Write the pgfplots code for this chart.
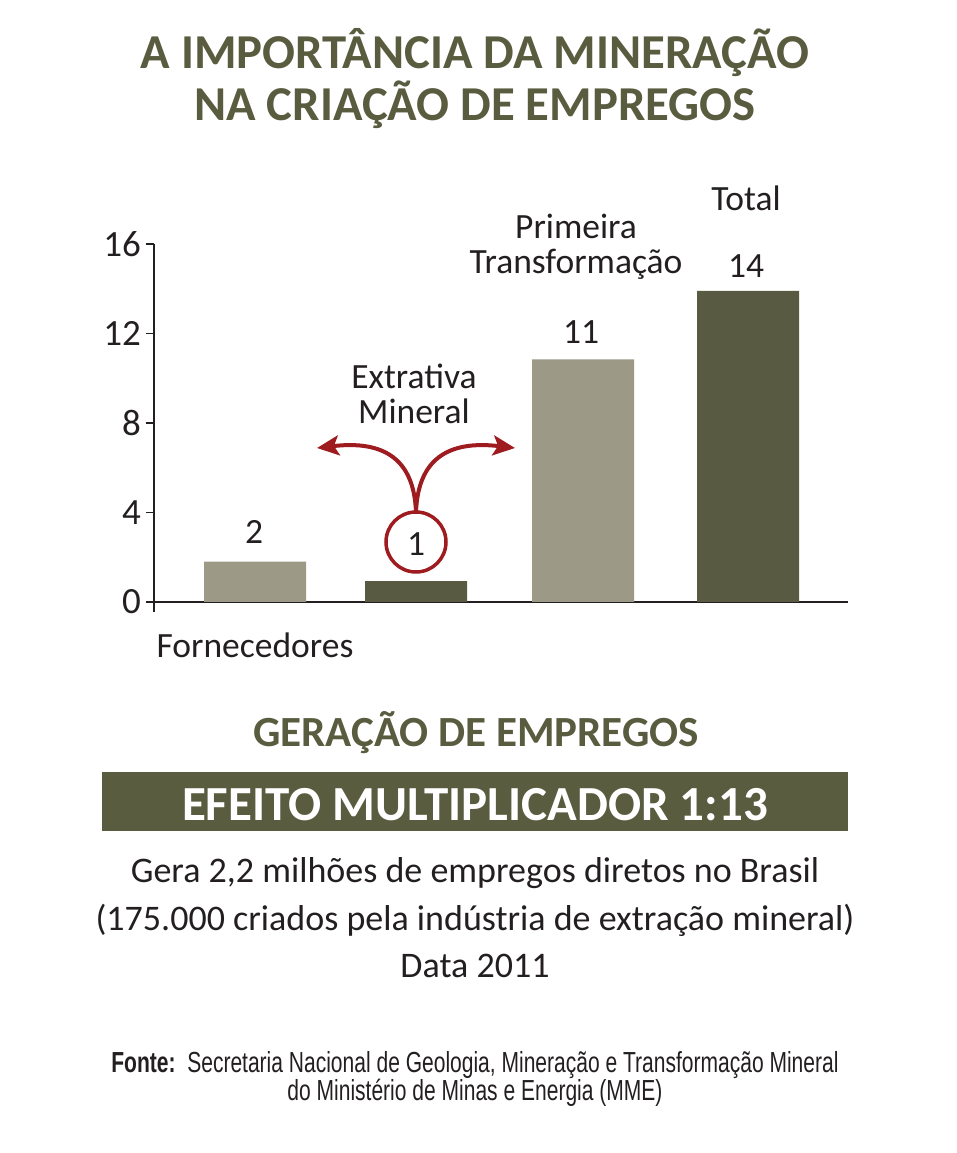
\documentclass[border=0pt]{standalone}
\usepackage{fontspec}
\setmainfont{Carlito}
\newfontfamily\cond[FakeStretch=0.725]{Liberation Sans}
\usepackage{pgfplots}
\pgfplotsset{compat=1.18}
\usetikzlibrary{arrows.meta}
\definecolor{lightbar}{HTML}{9C9A87}
\definecolor{darkbar}{HTML}{585A42}
\definecolor{olive}{HTML}{5A5C3F}
\definecolor{redc}{HTML}{9E1B20}
\definecolor{txt}{HTML}{231F20}
\newcommand\fs[1]{\fontsize{#1bp}{#1bp}\selectfont}
\begin{document}
\begin{tikzpicture}
\useasboundingbox (0,0) rectangle (957bp,-1153bp);
\begin{axis}[
  at={(154bp,-612bp)}, anchor=south west,
  scale only axis, width=694bp, height=368bp,
  xmin=154, xmax=848, ymin=-0.45, ymax=16,
  axis x line=middle, axis y line=left,
  axis line style={-, line width=1.5bp, txt},
  xtick=\empty, ytick={0,4,8,12,16},
  tick align=outside, major tick length=8bp,
  tick style={line width=1.5bp, txt},
  /pgf/number format/assume math mode=true,
  yticklabel style={font=\fs{37}, text=txt, inner sep=5bp},
  clip=false,
]
\addplot[ybar, bar width=102, fill=lightbar, draw=none, bar shift=0] coordinates {(255,1.8) (583,10.84)};
\addplot[ybar, bar width=102, fill=darkbar, draw=none, bar shift=0] coordinates {(416,0.93) (748,13.9)};
\end{axis}
\begin{scope}[x=1bp,y=-1bp, text=txt]
  % title
  \node[anchor=base, text=olive, font=\fs{48.7}\bfseries] at (475,68) {A IMPORTÂNCIA DA MINERAÇÃO};
  \node[anchor=base, text=olive, font=\fs{48.7}\bfseries] at (475,120) {NA CRIAÇÃO DE EMPREGOS};
  % chart annotations
  \node[anchor=base, font=\fs{35.5}] at (746,210) {Total};
  \node[anchor=base, font=\fs{35.5}] at (576,238) {Primeira};
  \node[anchor=base, font=\fs{35.5}] at (576,273) {Transformação};
  \node[anchor=base, font=\fs{35.5}] at (746,277) {14};
  \node[anchor=base, font=\fs{35.5}] at (581,343) {11};
  \node[anchor=base, font=\fs{35.5}] at (414,388) {Extrativa};
  \node[anchor=base, font=\fs{35.5}] at (414,423) {Mineral};
  \node[anchor=base, font=\fs{35.5}] at (254,543) {2};
  \node[anchor=base, font=\fs{35.5}] at (416,555) {1};
  \node[anchor=base, font=\fs{35.5}] at (255,657) {Fornecedores};
  \draw[redc, line width=3.5bp] (416,542) circle[radius=30];
  \draw[redc, line width=4bp, -{Stealth[length=22bp,width=20bp,inset=5bp]}] (416,512) .. controls (414,460) and (385,440) .. (317,448);
  \draw[redc, line width=4bp, -{Stealth[length=22bp,width=20bp,inset=5bp]}] (416,512) .. controls (418,460) and (447,440) .. (515,448);
  % bottom
  \node[anchor=base, text=olive, font=\fs{43}\bfseries] at (476,746) {GERAÇÃO DE EMPREGOS};
  \fill[olive] (102,772) rectangle (848,831);
  \node[anchor=base, text=white, font=\fs{49}\bfseries] at (475,820) {EFEITO MULTIPLICADOR 1:13};
  \node[anchor=base, font=\fs{36}] at (475,882) {Gera 2,2 milhões de empregos diretos no Brasil};
  \node[anchor=base, font=\fs{36}] at (475,930) {(175.000 criados pela indústria de extração mineral)};
  \node[anchor=base, font=\fs{36}] at (475,977) {Data 2011};
  \node[anchor=base, font=\cond\fs{29}] at (475,1072) {\textbf{Fonte:}\ \ Secretaria Nacional de Geologia, Mineração e Transformação Mineral};
  \node[anchor=base, font=\cond\fs{29}] at (475,1100) {do Ministério de Minas e Energia (MME)};
\end{scope}
\end{tikzpicture}
\end{document}
